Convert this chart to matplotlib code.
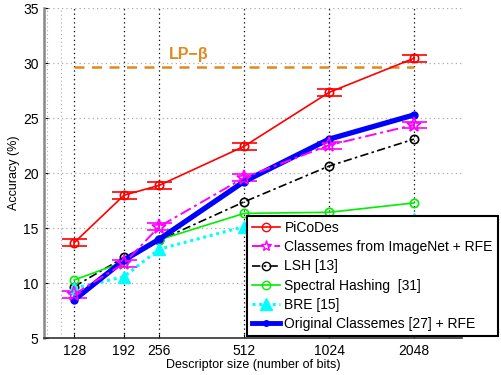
import matplotlib
matplotlib.use('Agg')
import matplotlib.pyplot as plt
from matplotlib.lines import Line2D

plt.rcParams['font.family'] = ['Liberation Sans', 'DejaVu Sans']

bits = [128, 192, 256, 512, 1024, 2048]
tick_labels = ['128', '192', '256', '512', '1024', '2048']

picodes = [13.7, 18.0, 18.9, 22.45, 27.35, 30.45]
classemes_imagenet = [9.0, 11.8, 15.15, 19.6, 22.55, 24.4]
lsh = [9.7, 12.35, 13.9, 17.4, 20.65, 23.1]
spectral = [10.3, 11.95, 13.95, 16.35, 16.45, 17.3]
bre = [9.55, 10.6, 13.1, 15.15, 15.5, 15.8]
orig_classemes = [8.5, 12.1, 14.0, 19.25, 23.1, 25.3]
err = 0.3
lp_beta = 29.7

fig = plt.figure(figsize=(5.01, 3.75), dpi=100)
ax = fig.add_axes([0.088, 0.098, 0.834, 0.88])
ax.set_xscale('log', base=2)

# grid, MATLAB style
for b in bits:
    ax.axvline(b, color='black', linestyle=(0, (1, 2.5)), linewidth=0.9, zorder=0)
for g in [102, 115]:
    ax.axvline(g, color='#aaaaaa', linestyle=(0, (1, 2.5)), linewidth=0.8, zorder=0)
for yv in range(5, 36, 5):
    ax.axhline(yv, color='#aaaaaa', linestyle=(0, (1, 2.5)), linewidth=0.9, zorder=0)

orange = '#e08a1e'
ax.plot([bits[0], bits[-1]], [lp_beta, lp_beta], color=orange, linestyle=(0, (4, 3)), linewidth=1.8)
ax.text(325, lp_beta + 0.4, 'LP\u2212\u03b2', color=orange, fontsize=11.5, fontweight='bold',
        ha='center', va='bottom')

ax.errorbar(bits, picodes, yerr=err, color='red', marker='o', mfc='none', ms=6, mew=1.2,
            linewidth=1.2, capsize=9, capthick=1.5, elinewidth=1.2)
ax.errorbar(bits, classemes_imagenet, yerr=err, color='magenta', marker='*', mfc='none', ms=11,
            mew=1.2, linestyle=(0, (6, 2, 1.5, 2)), linewidth=1.4, capsize=9, capthick=1.5)
ax.plot(bits, lsh, color='black', marker='o', mfc='none', ms=6, mew=1.2,
        linestyle=(0, (5, 2, 1.5, 2)), linewidth=1.2)
ax.plot(bits, spectral, color='#00ee00', marker='o', mfc='none', ms=6, mew=1.2, linewidth=1.2)
ax.plot(bits, bre, color='cyan', marker='^', ms=9, linestyle=(0, (1, 1.2)), linewidth=2.2)
ax.plot(bits, orig_classemes, color='blue', marker='.', ms=10, linewidth=3.8)

ax.set_xlim(100, 3030)
ax.set_ylim(5, 35)
ax.set_xticks(bits)
ax.set_xticklabels(tick_labels)
ax.xaxis.set_minor_locator(matplotlib.ticker.NullLocator())
ax.set_yticks(range(5, 36, 5))
ax.tick_params(labelsize=10, direction='in', length=3, pad=4)
ax.set_xlabel('Descriptor size (number of bits)', fontsize=9, labelpad=1)
ax.set_ylabel('Accuracy (%)', fontsize=9, labelpad=2)
for s in ['top', 'right']:
    ax.spines[s].set_visible(False)
ax.spines['left'].set_color('#888888')
ax.spines['left'].set_linewidth(1.8)
ax.spines['bottom'].set_color('#333333')
ax.spines['bottom'].set_linewidth(1.2)

handles = [
    Line2D([], [], color='red', marker='o', mfc='none', ms=6, linewidth=1.2),
    Line2D([], [], color='magenta', marker='*', mfc='none', ms=8, linestyle=(0, (6, 2, 1.5, 2)), linewidth=1.4),
    Line2D([], [], color='black', marker='o', mfc='none', ms=6, linestyle=(0, (5, 2, 1.5, 2)), linewidth=1.2),
    Line2D([], [], color='#00ee00', marker='o', mfc='none', ms=6, linewidth=1.2),
    Line2D([], [], color='cyan', marker='^', ms=9, linestyle=(0, (1, 1.2)), linewidth=2.2),
    Line2D([], [], color='blue', marker='.', ms=8, linewidth=3.5),
]
labels = ['PiCoDes', 'Classemes from ImageNet + RFE', 'LSH [13]', 'Spectral Hashing  [31]',
          'BRE [15]', 'Original Classemes [27] + RFE']
leg = ax.legend(handles, labels, loc='upper left', bbox_to_anchor=(247 / 501, 1 - 216 / 375),
                bbox_transform=fig.transFigure, fontsize=10, frameon=True, fancybox=False,
                framealpha=1, edgecolor='black', handlelength=2.0, handletextpad=0.35,
                labelspacing=0.38, borderpad=0.35, borderaxespad=0)
leg.get_frame().set_linewidth(1.5)

fig.savefig('out.png', dpi=100)
